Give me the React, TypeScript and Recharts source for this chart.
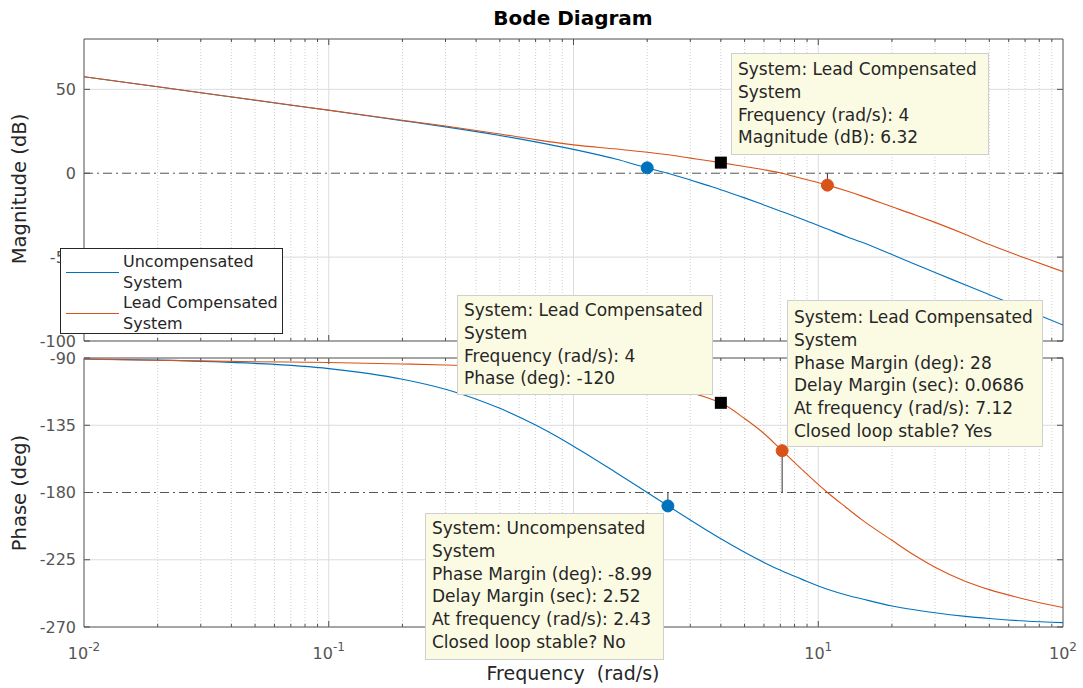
import { LineChart, Line, XAxis, YAxis, ReferenceLine, ReferenceDot, ReferenceArea } from "recharts";

// frequency grid (rad/s) shared by both plots
const freqs = [0.01, 0.02, 0.05, 0.1, 0.2, 0.3, 0.5, 0.7, 1, 1.5, 2, 2.43, 3, 3.5, 4, 5, 6, 7.12, 8.5, 10.9, 13, 15, 20, 25, 30, 40, 50, 70, 100];

// magnitude (dB)
const uncompMag = [57.5, 51.5, 43.5, 37.5, 31.3, 27.6, 22.5, 18.7, 14.2, 8.3, 3.2, 0, -4.0, -7.1, -9.8, -14.7, -18.9, -22.9, -27.1, -33.3, -37.7, -41.0, -48.5, -54.4, -59.2, -66.6, -72.4, -81.2, -90.5];
const compMag = [57.5, 51.5, 43.6, 37.6, 31.6, 28.1, 23.4, 20.0, 16.9, 14.4, 12.5, 11.0, 9.0, 7.6, 6.32, 4.0, 2.1, 0, -3.0, -7.1, -10.5, -13.5, -20.0, -25.0, -29.3, -36.5, -42.5, -50.5, -58.7];

// phase (deg)
const uncompPhase = [-90.7, -91.4, -93.6, -97.1, -104.2, -110.9, -123.7, -134.9, -149.0, -166.9, -180.0, -188.9, -198.4, -205.2, -211.0, -220.0, -226.8, -232.6, -237.8, -244.8, -248.6, -251.1, -255.9, -258.6, -260.5, -262.9, -264.3, -266.0, -267.1];
const compPhase = [-90.8, -91.5, -92.5, -93.0, -94.0, -94.7, -96.0, -97.3, -99.0, -102.0, -106.0, -109.5, -113.0, -116.5, -120.0, -130.5, -140.5, -152.0, -164.0, -180.0, -190.0, -198.0, -212.0, -222.5, -230.0, -239.5, -245.0, -251.4, -257.0];

const decadeTicks = [0.01, 0.1, 1, 10, 100];
// 10^0 sits under the uncompensated datatip, so it gets no label
const labelledDecades = [0.01, 0.1, 10, 100];
const minorMultipliers = [2, 3, 4, 5, 6, 7, 8, 9];
const magTicks = [-100, -50, 0, 50];
const phaseTicks = [-270, -225, -180, -135, -90];

// stability margin markers and the datatip at 4 rad/s
const gmFreq = [2.0, 10.9];
const gmMag = [3.2, -7.1];
const pmFreq = [2.43, 7.12];
const pmPhase = [-188.99, -152];
const tipFreq = 4;
const tipMag = 6.32;
const tipPhase = -120;

const BLUE = "#0072BD";
const ORANGE = "#D95319";
const FONT = "'DejaVu Sans', sans-serif";

const rows = freqs.map((f, i) => ({
    freq: f,
    uncompMag: uncompMag[i],
    compMag: compMag[i],
    uncompPhase: uncompPhase[i],
    compPhase: compPhase[i],
}));

const minorFreqs = decadeTicks.slice(0, 4).flatMap((d) => minorMultipliers.map((m) => +(d * m).toPrecision(3)));
const xTickFactor = Math.pow(10, 6 / 244.75);

function plotFrame(id: string, yMin: number, yMax: number, yTicks: number[], perPx: number, refY: number) {
    const els: any[] = [];
    minorFreqs.forEach((f) => {
        els.push(<ReferenceLine key={`${id}-mg${f}`} x={f} stroke="#cfcfcf" strokeDasharray="1 2" />);
        els.push(<ReferenceLine key={`${id}-mtb${f}`} segment={[{ x: f, y: yMin }, { x: f, y: yMin + 3 * perPx }]} stroke="#4d4d4d" />);
        els.push(<ReferenceLine key={`${id}-mtt${f}`} segment={[{ x: f, y: yMax }, { x: f, y: yMax - 3 * perPx }]} stroke="#4d4d4d" />);
    });
    decadeTicks.slice(1, 4).forEach((f) => {
        els.push(<ReferenceLine key={`${id}-dg${f}`} x={f} stroke="#dcdcdc" />);
        els.push(<ReferenceLine key={`${id}-dtb${f}`} segment={[{ x: f, y: yMin }, { x: f, y: yMin + 6 * perPx }]} stroke="#4d4d4d" />);
        els.push(<ReferenceLine key={`${id}-dtt${f}`} segment={[{ x: f, y: yMax }, { x: f, y: yMax - 6 * perPx }]} stroke="#4d4d4d" />);
    });
    yTicks.forEach((v) => {
        if (v !== yMin && v !== yMax && v !== refY) {
            els.push(<ReferenceLine key={`${id}-hg${v}`} y={v} stroke="#dcdcdc" />);
        }
        els.push(<ReferenceLine key={`${id}-ytl${v}`} segment={[{ x: 0.01, y: v }, { x: 0.01 * xTickFactor, y: v }]} stroke="#4d4d4d" />);
        els.push(<ReferenceLine key={`${id}-ytr${v}`} segment={[{ x: 100 / xTickFactor, y: v }, { x: 100, y: v }]} stroke="#4d4d4d" />);
    });
    els.push(<ReferenceLine key={`${id}-ref`} y={refY} stroke="#555" strokeDasharray="9 4 2 4" />);
    els.push(<ReferenceArea key={`${id}-box`} x1={0.01} x2={100} y1={yMin} y2={yMax} fill="none" fillOpacity={0} stroke="#4d4d4d" />);
    return els;
}

const DecadeTick = (props: any) => {
    const { x, y, payload } = props;
    const exp = Math.round(Math.log10(payload.value));
    return (
        <text x={x} y={y + 24} textAnchor="middle" fill="#555" fontSize={16} fontFamily={FONT}>
            <tspan>10</tspan>
            <tspan dy={-8} fontSize={12}>{exp}</tspan>
        </text>
    );
};

const Square = (props: any) => <rect x={props.cx - 6} y={props.cy - 6} width={12} height={12} fill="#000" />;

const tipStyle = {
    position: "absolute" as const,
    boxSizing: "border-box" as const,
    background: "#fbfbe4",
    border: "1px solid #cfcfcf",
    fontFamily: FONT,
    fontSize: 17,
    lineHeight: "22.8px",
    color: "#262626",
    padding: "4px 6px",
    whiteSpace: "pre" as const,
};

const yTick = { fill: "#555", fontSize: 16, fontFamily: FONT };

export default function App() {
    return (
        <div style={{ position: "absolute", left: 0, top: 0, width: 1083, height: 688, background: "#fff", overflow: "hidden" }}>
            <div style={{ position: "absolute", left: 0, top: 0 }}>
                <LineChart width={1083} height={355} data={rows} margin={{ top: 39, right: 20, bottom: 14, left: 44 }}>
                    <XAxis dataKey="freq" type="number" scale="log" domain={[0.01, 100]} ticks={decadeTicks} allowDataOverflow hide />
                    <YAxis type="number" domain={[-100, 80]} ticks={magTicks} width={40} axisLine={false} tickLine={false} tick={yTick} allowDataOverflow />
                    {plotFrame("m", -100, 80, magTicks, 180 / 302, 0)}
                    <Line type="monotone" dataKey="uncompMag" stroke={BLUE} strokeWidth={1.1} dot={false} isAnimationActive={false} />
                    <Line type="monotone" dataKey="compMag" stroke={ORANGE} strokeWidth={1.1} dot={false} isAnimationActive={false} />
                    <ReferenceLine segment={[{ x: gmFreq[1], y: 0 }, { x: gmFreq[1], y: gmMag[1] }]} stroke="#333" />
                    <ReferenceDot x={gmFreq[0]} y={gmMag[0]} r={6} fill={BLUE} stroke={BLUE} />
                    <ReferenceDot x={gmFreq[1]} y={gmMag[1]} r={6} fill={ORANGE} stroke={ORANGE} />
                    <ReferenceDot x={tipFreq} y={tipMag} shape={Square} />
                </LineChart>
            </div>
            <div style={{ position: "absolute", left: 0, top: 0 }}>
                <LineChart width={1083} height={688} data={rows} margin={{ top: 358, right: 20, bottom: 21, left: 44 }}>
                    <XAxis dataKey="freq" type="number" scale="log" domain={[0.01, 100]} ticks={labelledDecades} tick={<DecadeTick />} axisLine={false} tickLine={false} height={40} allowDataOverflow />
                    <YAxis type="number" domain={[-270, -90]} ticks={phaseTicks} width={40} axisLine={false} tickLine={false} tick={yTick} allowDataOverflow />
                    {plotFrame("p", -270, -90, phaseTicks, 180 / 269, -180)}
                    <Line type="monotone" dataKey="uncompPhase" stroke={BLUE} strokeWidth={1.1} dot={false} isAnimationActive={false} />
                    <Line type="monotone" dataKey="compPhase" stroke={ORANGE} strokeWidth={1.1} dot={false} isAnimationActive={false} />
                    <ReferenceLine segment={[{ x: pmFreq[0], y: -180 }, { x: pmFreq[0], y: pmPhase[0] }]} stroke="#333" />
                    <ReferenceLine segment={[{ x: pmFreq[1], y: -180 }, { x: pmFreq[1], y: pmPhase[1] }]} stroke="#333" />
                    <ReferenceDot x={pmFreq[0]} y={pmPhase[0]} r={6} fill={BLUE} stroke={BLUE} />
                    <ReferenceDot x={pmFreq[1]} y={pmPhase[1]} r={6} fill={ORANGE} stroke={ORANGE} />
                    <ReferenceDot x={tipFreq} y={tipPhase} shape={Square} />
                </LineChart>
            </div>

            <svg width={1083} height={688} style={{ position: "absolute", left: 0, top: 0, pointerEvents: "none" }}>
                <text x={573} y={25} textAnchor="middle" fontFamily={FONT} fontSize={20} fontWeight="bold" fill="#000">Bode Diagram</text>
                <text transform="translate(26,189) rotate(-90)" textAnchor="middle" fontFamily={FONT} fontSize={19.5} fill="#262626">Magnitude (dB)</text>
                <text transform="translate(26,493) rotate(-90)" textAnchor="middle" fontFamily={FONT} fontSize={19.5} fill="#262626">Phase (deg)</text>
                <text x={573} y={680} textAnchor="middle" fontFamily={FONT} fontSize={19} fill="#262626" style={{ whiteSpace: "pre" }}>Frequency  (rad/s)</text>
            </svg>

            <div style={{ position: "absolute", left: 60, top: 248, width: 223, height: 86, boxSizing: "border-box", background: "#fff", border: "1px solid #262626", fontFamily: FONT, fontSize: 16, lineHeight: "20.5px", color: "#262626" }}>
                <div style={{ position: "absolute", left: 5, top: 23, width: 53, borderTop: `1.5px solid ${BLUE}` }} />
                <div style={{ position: "absolute", left: 5, top: 64, width: 53, borderTop: `1.5px solid ${ORANGE}` }} />
                <div style={{ position: "absolute", left: 62, top: 3 }}>Uncompensated<br />System<br />Lead Compensated<br />System</div>
            </div>

            <div style={{ ...tipStyle, left: 731, top: 53, width: 258, height: 102 }}>{"System: Lead Compensated\nSystem\nFrequency (rad/s): 4\nMagnitude (dB): 6.32"}</div>
            <div style={{ ...tipStyle, left: 457, top: 295, width: 256, height: 100, paddingTop: 3 }}>{"System: Lead Compensated\nSystem\nFrequency (rad/s): 4\nPhase (deg): -120"}</div>
            <div style={{ ...tipStyle, left: 787, top: 300, width: 256, height: 147, paddingTop: 5 }}>{"System: Lead Compensated\nSystem\nPhase Margin (deg): 28\nDelay Margin (sec): 0.0686\nAt frequency (rad/s): 7.12\nClosed loop stable? Yes"}</div>
            <div style={{ ...tipStyle, left: 425, top: 513, width: 239, height: 147, paddingTop: 3 }}>{"System: Uncompensated\nSystem\nPhase Margin (deg): -8.99\nDelay Margin (sec): 2.52\nAt frequency (rad/s): 2.43\nClosed loop stable? No"}</div>
        </div>
    );
}
